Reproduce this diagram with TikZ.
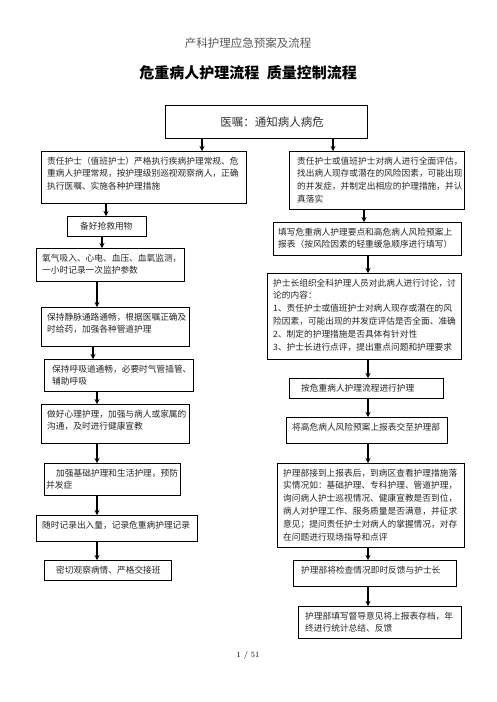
\documentclass[tikz,border=0pt]{standalone}
\usepackage{fontspec}
\newfontfamily\cjk{Noto Sans CJK SC}
\usetikzlibrary{arrows.meta}
\tikzset{
  frame/.style={draw=black, line width=1.2pt, inner sep=0pt},
  txt/.style={font=\cjk\fontsize{8.7}{12.8}\selectfont, text=black!85, align=left, inner sep=0pt, anchor=north west},
  arr/.style={line width=1.2pt, -{Stealth[length=5pt,width=5pt]}},
}
\newcommand\mybox[7]{%
  \node[frame, anchor=north west, minimum width={#4pt-#2pt}, minimum height={#5pt-#3pt}] (#1) at (#2pt,-#3pt) {};
  \node[txt] (#1t) at ({#2pt+#6pt},{-#3pt-5.5pt}) {#7};}
\newcommand\myarr[3]{%
  \path (#1pt,0pt) coordinate (tmpx);
  \draw[arr] (tmpx |- #2.south) -- (tmpx |- #3.north);}
\begin{document}
\begin{tikzpicture}
\path[fill=white, use as bounding box] (0pt,0pt) rectangle (496pt,-702pt);

\node[font=\cjk\fontsize{11.5}{13}\selectfont, text=black!65] (hdr) at (248pt,-43pt) {产科护理应急预案及流程};
\node[font=\cjk\bfseries\fontsize{15}{17}\selectfont] (ttl) at (248pt,-73pt) {危重病人护理流程\hspace{0.5em}质量控制流程};

\node[frame, anchor=north west, minimum width=202pt, minimum height=33pt] (top) at (165pt,-105pt) {};
\node[font=\cjk\fontsize{11.5}{13}\selectfont, text=black!80] (topt) at (272pt,-122pt) {医嘱：通知病人病危};

% left column
\mybox{La}{41}{151}{246}{203}{6}{责任护士（值班护士）严格执行疾病护理常规、危\\重病人护理常规，按护理级别巡视观察病人，正确\\执行医嘱、实施各种护理措施}
\mybox{Lb}{67}{216}{146}{236}{13}{备好抢救用物}
\mybox{Lc}{36}{248}{184}{281}{6}{氧气吸入、心电、血压、血氧监测，\\一小时记录一次监护参数}
\mybox{Ld}{41}{307}{189}{346}{6}{保持静脉通路通畅，根据医嘱正确及\\时给药，加强各种管道护理}
\mybox{Le}{44}{359}{193}{391}{8}{保持呼吸道通畅，必要时气管插管、\\辅助呼吸}
\mybox{Lf}{41}{404}{189}{443}{6}{做好心理护理，加强与病人或家属的\\沟通，及时进行健康宣教}
\mybox{Lg}{44}{463}{180}{495}{2}{\hspace*{10pt}加强基础护理和生活护理，预防\\并发症}
\mybox{Lh}{36}{515}{197}{541}{6}{随时记录出入量，记录危重病护理记录}
\mybox{Li}{44}{560}{171}{580}{12}{密切观察病情、严格交接班}

% right column
\mybox{Ra}{289}{151}{464}{209}{8}{责任护士或值班护士对病人进行全面评估，\\找出病人现存或潜在的风险因素，可能出现\\的并发症，并制定出相应的护理措施，并认\\真落实}
\mybox{Rb}{273}{222}{461}{255}{5}{填写危重病人护理要点和高危病人风险预案上\\报表（按风险因素的轻重缓急顺序进行填写）}
\mybox{Rc}{267}{273}{461}{359}{6}{护士长组织全科护理人员对此病人进行讨论，讨\\论的内容：\\1、责任护士或值班护士对病人现存或潜在的风\\险因素，可能出现的并发症评估是否全面、准确\\2、制定的护理措施是否具体有针对性\\3、护士长进行点评，提出重点问题和护理要求}
\mybox{Rd}{289}{378}{443}{398}{12}{按危重病人护理流程进行护理}
\mybox{Re}{286}{417}{447}{443}{6}{将高危病人风险预案上报表交至护理部}
\mybox{Rf}{277}{463}{464}{547}{6}{护理部接到上报表后，到病区查看护理措施落\\实情况如：基础护理、专科护理、管道护理，\\询问病人护士巡视情况、健康宣教是否到位，\\病人对护理工作、服务质量是否满意，并征求\\意见；提问责任护士对病人的掌握情况，对存\\在问题进行现场指导和点评}
\mybox{Rg}{293}{560}{456}{586}{8}{护理部将检查情况即时反馈与护士长}
\mybox{Rh}{298}{606}{461}{638}{7}{护理部填写督导意见将上报表存档，年\\终进行统计总结、反馈}

% arrows
\myarr{202}{top}{La}
\myarr{333}{top}{Ra}
\myarr{106}{La}{Lb}
\myarr{102}{Lb}{Lc}
\myarr{97}{Lc}{Ld}
\myarr{93}{Ld}{Le}
\myarr{97}{Le}{Lf}
\myarr{97}{Lf}{Lg}
\myarr{97}{Lg}{Lh}
\myarr{97}{Lh}{Li}
\myarr{364}{Ra}{Rb}
\myarr{368}{Rb}{Rc}
\myarr{368}{Rc}{Rd}
\myarr{368}{Rd}{Re}
\myarr{368}{Re}{Rf}
\myarr{368}{Rf}{Rg}
\myarr{368}{Rg}{Rh}

\node[font=\fontsize{8}{9}\selectfont] (pg) at (248pt,-655pt) {1 / 51};
\end{tikzpicture}
\end{document}
